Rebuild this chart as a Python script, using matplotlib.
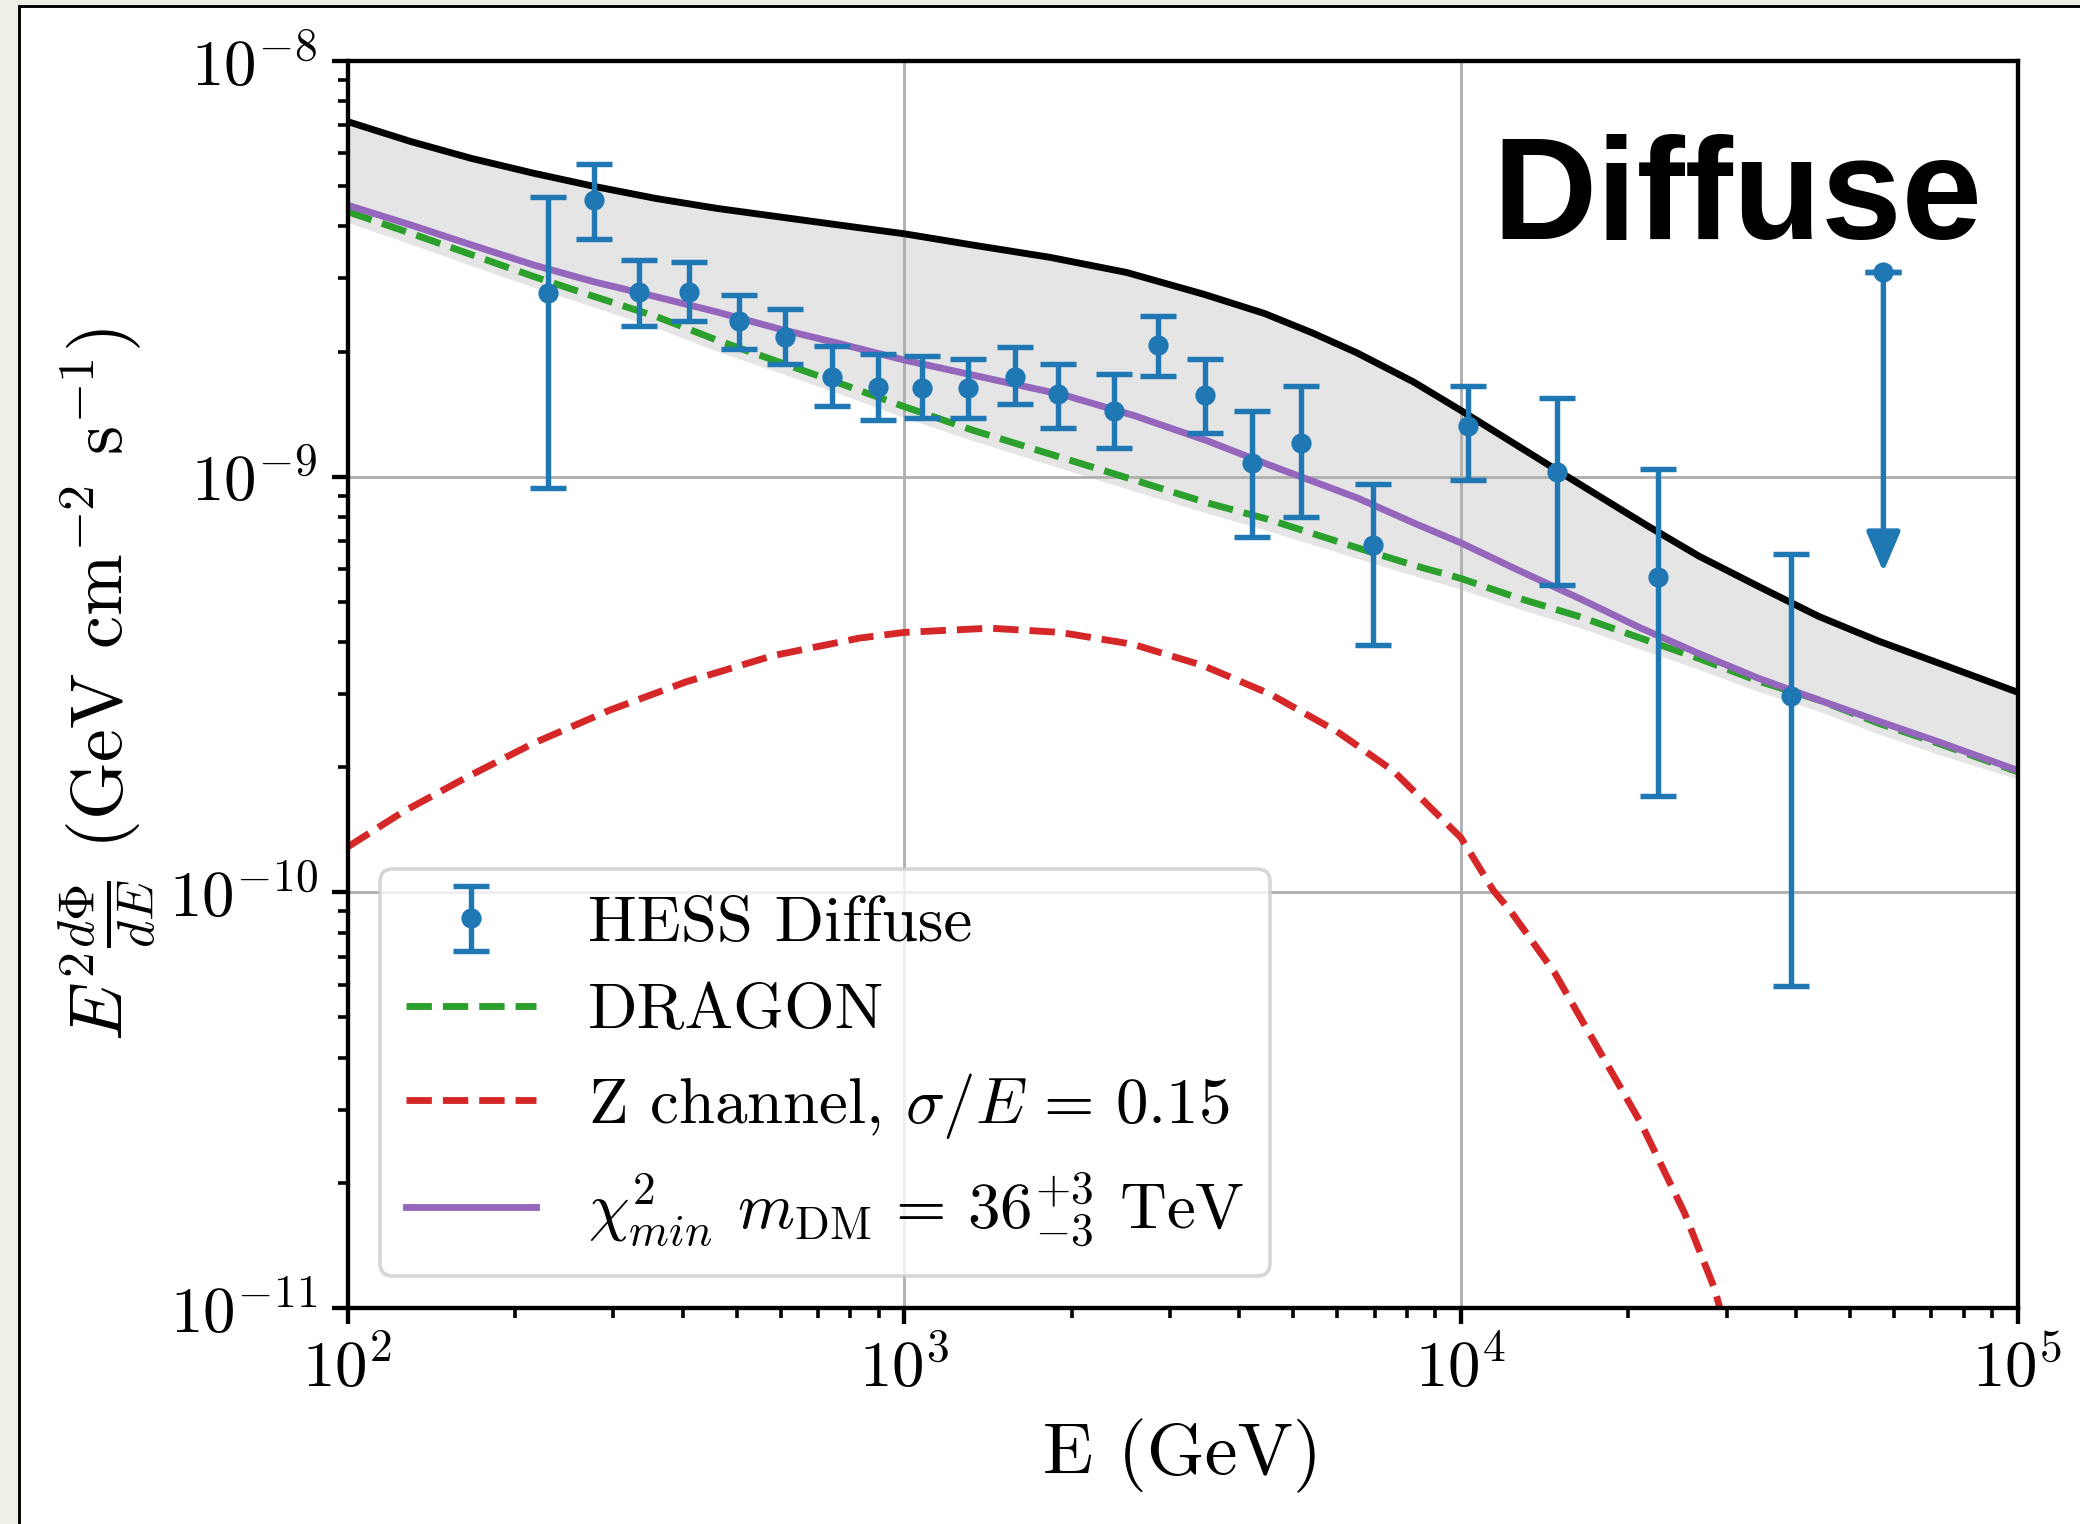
import matplotlib
matplotlib.use("Agg")
import matplotlib.pyplot as plt
from matplotlib.patches import Rectangle
from matplotlib.ticker import LogLocator, NullFormatter

# ---------------- data ----------------
hess_E = [229, 277.5, 334, 410, 505, 611, 741, 897, 1076, 1304, 1580, 1893, 2384,
          2857, 3465, 4210, 5160, 6945, 10300, 14850, 22600, 39120]
hess_F = [2.76e-9, 4.64e-9, 2.78e-9, 2.78e-9, 2.37e-9, 2.17e-9, 1.74e-9, 1.646e-9,
          1.63e-9, 1.63e-9, 1.74e-9, 1.58e-9, 1.44e-9, 2.07e-9, 1.573e-9, 1.08e-9,
          1.207e-9, 6.85e-10, 1.327e-9, 1.025e-9, 5.73e-10, 2.97e-10]
hess_hi = [4.72e-9, 5.64e-9, 3.32e-9, 3.28e-9, 2.74e-9, 2.53e-9, 2.06e-9, 1.97e-9,
           1.95e-9, 1.92e-9, 2.05e-9, 1.87e-9, 1.765e-9, 2.43e-9, 1.92e-9, 1.435e-9,
           1.65e-9, 9.6e-10, 1.65e-9, 1.548e-9, 1.045e-9, 6.53e-10]
hess_lo = [9.38e-10, 3.73e-9, 2.31e-9, 2.37e-9, 2.03e-9, 1.87e-9, 1.48e-9, 1.365e-9,
           1.385e-9, 1.385e-9, 1.496e-9, 1.306e-9, 1.17e-9, 1.75e-9, 1.277e-9, 7.15e-10,
           7.99e-10, 3.93e-10, 9.82e-10, 5.5e-10, 1.705e-10, 5.96e-11]

ul_E = [57400]
ul_F = [3.10e-9]
ul_tip = [5.9e-10]

# upper edge of the band (black line)
black_E = [100, 130, 167, 216, 278, 358, 461, 594, 765, 1000, 1324, 1828, 2507, 3443,
           4436, 5400, 6484, 8222, 10000, 12210, 15240, 18000, 21590, 26760, 34290,
           43950, 56320, 72170, 100000]
black_F = [7.15e-9, 6.40e-9, 5.83e-9, 5.37e-9, 4.99e-9, 4.67e-9, 4.42e-9, 4.22e-9,
           4.03e-9, 3.84e-9, 3.61e-9, 3.37e-9, 3.10e-9, 2.75e-9, 2.47e-9, 2.22e-9,
           1.99e-9, 1.69e-9, 1.443e-9, 1.222e-9, 1.016e-9, 8.86e-10, 7.63e-10,
           6.44e-10, 5.44e-10, 4.61e-10, 4.02e-10, 3.56e-10, 3.03e-10]

curve_E = [100, 130, 167, 216, 278, 358, 461, 594, 765, 1000, 1324, 1936, 2600, 3500,
           4500, 6500, 8300, 10000, 12700, 16300, 20900, 26800, 34300, 44000, 56300,
           72200, 100000]
band_low_F = [4.08e-9, 3.62e-9, 3.21e-9, 2.85e-9, 2.55e-9, 2.28e-9, 2.0e-9, 1.78e-9,
              1.58e-9, 1.385e-9, 1.22e-9, 1.04e-9, 9.2e-10, 8.15e-10, 7.4e-10, 6.35e-10,
              5.75e-10, 5.35e-10, 4.8e-10, 4.33e-10, 3.85e-10, 3.43e-10, 3.03e-10,
              2.72e-10, 2.40e-10, 2.14e-10, 1.87e-10]
dragon_F = [4.34e-9, 3.85e-9, 3.42e-9, 3.03e-9, 2.71e-9, 2.43e-9, 2.13e-9, 1.89e-9,
            1.678e-9, 1.474e-9, 1.295e-9, 1.107e-9, 9.8e-10, 8.65e-10, 7.9e-10, 6.75e-10,
            6.1e-10, 5.69e-10, 5.1e-10, 4.61e-10, 4.1e-10, 3.65e-10, 3.22e-10, 2.9e-10,
            2.55e-10, 2.28e-10, 1.95e-10]
chi2_F = [4.50e-9, 4.03e-9, 3.61e-9, 3.23e-9, 2.94e-9, 2.71e-9, 2.49e-9, 2.27e-9,
          2.09e-9, 1.908e-9, 1.757e-9, 1.572e-9, 1.40e-9, 1.22e-9, 1.07e-9, 8.9e-10,
          7.7e-10, 6.93e-10, 5.95e-10, 5.1e-10, 4.34e-10, 3.75e-10, 3.27e-10, 2.9e-10,
          2.58e-10, 2.3e-10, 1.965e-10]

zchan_E = [100, 126, 165, 216, 296, 406, 581, 832, 1000, 1426, 1905, 2579, 3446, 4541,
           5983, 7560, 10000, 11440, 12290, 14710, 17600, 21070, 25210, 28500, 31000]
zchan_F = [1.285e-10, 1.564e-10, 1.902e-10, 2.285e-10, 2.744e-10, 3.21e-10, 3.71e-10,
           4.09e-10, 4.22e-10, 4.32e-10, 4.22e-10, 3.95e-10, 3.51e-10, 3.00e-10,
           2.44e-10, 1.96e-10, 1.354e-10, 1.01e-10, 9.0e-11, 6.43e-11, 4.23e-11,
           2.78e-11, 1.694e-11, 1.12e-11, 7.5e-12]

# ---------------- style ----------------
plt.rcParams['font.family'] = ['cmr10', 'DejaVu Serif']
plt.rcParams['mathtext.fontset'] = 'cm'
plt.rcParams['axes.formatter.use_mathtext'] = True
plt.rcParams['axes.unicode_minus'] = False

W, H, DPI = 2080, 1524, 260
fig = plt.figure(figsize=(W / DPI, H / DPI), dpi=DPI)
fig.patch.set_facecolor('#efefe8')
fig.add_artist(Rectangle((18.5 / W, -0.1), 1.2, 1.1 - 6.0 / H,
                         transform=fig.transFigure, facecolor='white',
                         edgecolor='black', linewidth=0.8, zorder=0))

ax = fig.add_axes([347.5 / W, 1 - 1308 / H, (2017.6 - 347.5) / W, (1308 - 61) / H])
ax.set_xscale('log')
ax.set_yscale('log')

lw = 1.9
ax.fill(black_E + curve_E[::-1], black_F + band_low_F[::-1], color='gray', alpha=0.2,
        linewidth=0, zorder=1)
ax.plot(black_E, black_F, color='black', lw=lw)
l_dragon, = ax.plot(curve_E, dragon_F, color='#2ca02c', lw=lw, ls='--', label='DRAGON')
l_z, = ax.plot(zchan_E, zchan_F, color='#d62728', lw=lw, ls='--',
               label=r'Z channel, $\sigma/E\,=\,0.15$')
l_chi, = ax.plot(curve_E, chi2_F, color='#9467bd', lw=lw,
                 label=r'$\chi^2_{min}$ $m_{\rm DM}\,=\,36^{+3}_{-3}$ TeV')

yerr = [[f - l for f, l in zip(hess_F, hess_lo)], [h - f for f, h in zip(hess_F, hess_hi)]]
eb = ax.errorbar(hess_E, hess_F, yerr=yerr, fmt='o', color='#1f77b4', ms=4.6,
                 elinewidth=1.5, capsize=5, capthick=1.5, label='HESS Diffuse', zorder=3)
ax.errorbar(ul_E, ul_F, yerr=[[0], [0]], fmt='o', color='#1f77b4', ms=4.6,
            elinewidth=1.5, capsize=5, capthick=1.5, zorder=3)
ax.annotate('', xy=(ul_E[0], ul_tip[0]), xytext=(ul_E[0], ul_F[0]),
            xycoords='data', textcoords='data',
            arrowprops=dict(arrowstyle='-|>,head_length=0.4,head_width=0.17',
                            mutation_scale=23.5, lw=1.5, color='#1f77b4',
                            shrinkA=0, shrinkB=0), zorder=3)

ax.set_xlim(1e2, 1e5)
ax.set_ylim(1e-11, 1e-8)
ax.grid(True, which='major', color='#b0b0b0', lw=0.8)
for sp in ax.spines.values():
    sp.set_linewidth(1.2)
ax.xaxis.set_minor_locator(LogLocator(base=10, subs=range(2, 10), numticks=20))
ax.yaxis.set_minor_locator(LogLocator(base=10, subs=range(2, 10), numticks=20))
ax.xaxis.set_minor_formatter(NullFormatter())
ax.yaxis.set_minor_formatter(NullFormatter())
ax.tick_params(which='major', length=4.3, width=1.2, labelsize=18, pad=4)
ax.tick_params(which='minor', length=2.7, width=1.0)

ax.set_xlabel('E (GeV)', fontsize=20.5, labelpad=5)
ax.set_ylabel(r'$E^2\frac{d\Phi}{dE}$ (GeV cm$^{-2}$ s$^{-1}$)', fontsize=20.5,
              labelpad=3)

ax.text(0.9787, 0.8573, 'Diffuse', transform=ax.transAxes, ha='right', va='baseline',
        fontsize=40, fontweight='bold', family=['Liberation Sans', 'DejaVu Sans'])

ax.legend(handles=[eb, l_dragon, l_z, l_chi], loc='lower left', fontsize=18,
          labelspacing=0.45, handlelength=2.0)

fig.savefig('out.png', dpi=DPI, facecolor=fig.get_facecolor())
